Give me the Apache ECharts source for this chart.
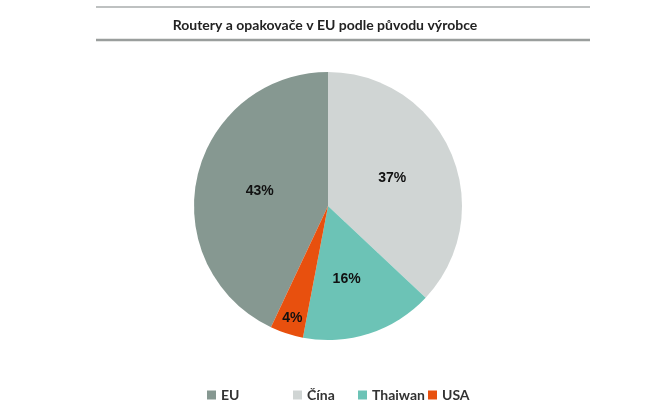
<!DOCTYPE html>
<html lang="cs">
<head>
<meta charset="utf-8">
<title>Routery a opakovače v EU</title>
<style>
html, body { margin: 0; background: #fff; }
#chart { width: 650px; height: 416px; }
</style>
</head>
<body>
<div id="chart"></div>
<script src="https://cdn.jsdelivr.net/npm/echarts@6/dist/echarts.min.js"></script>
<script>
var names = ['EU', 'Čína', 'Thaiwan', 'USA'];
var shares = [43, 37, 16, 4];
var colors = ['#869891', '#d0d5d4', '#6cc3b6', '#e8500e'];
var legendLeft = [207, 293, 358, 428];

var chart = echarts.init(document.getElementById('chart'));
chart.setOption({
  animation: false,
  textStyle: { fontFamily: 'Lato' },
  title: {
    text: 'Routery a opakovače v EU podle původu výrobce',
    left: 'center',
    top: 18,
    padding: 0,
    textStyle: { fontSize: 14, fontWeight: 'bold', color: '#222' }
  },
  graphic: [
    { type: 'line', shape: { x1: 96, y1: 7, x2: 590, y2: 7 }, style: { stroke: '#a9adac', lineWidth: 1.5 } },
    { type: 'line', shape: { x1: 96, y1: 40, x2: 590, y2: 40 }, style: { stroke: '#9a9e9d', lineWidth: 2.5 } }
  ],
  legend: names.map(function (n, i) {
    return {
      data: [n],
      left: legendLeft[i],
      top: 388,
      padding: 0,
      icon: 'rect',
      itemWidth: 9,
      itemHeight: 9,
      itemGap: 0,
      selectedMode: false,
      textStyle: { fontSize: 14, fontWeight: 'bold', color: '#333' }
    };
  }),
  series: [{
    type: 'pie',
    center: [328, 206],
    radius: 134,
    startAngle: 90 + shares[0] * 3.6,
    clockwise: true,
    color: colors,
    label: {
      position: 'inside',
      formatter: '{c}%',
      fontFamily: 'Liberation Sans',
      fontSize: 14,
      fontWeight: 'bold',
      color: '#111'
    },
    labelLine: { show: false },
    emphasis: { disabled: true },
    data: names.map(function (n, i) {
      var d = { name: n, value: shares[i] };
      if (n === 'USA') d.label = { offset: [-14, 46] };
      if (n === 'Thaiwan') d.label = { offset: [-3, 7] };
      return d;
    })
  }]
});
</script>
</body>
</html>
